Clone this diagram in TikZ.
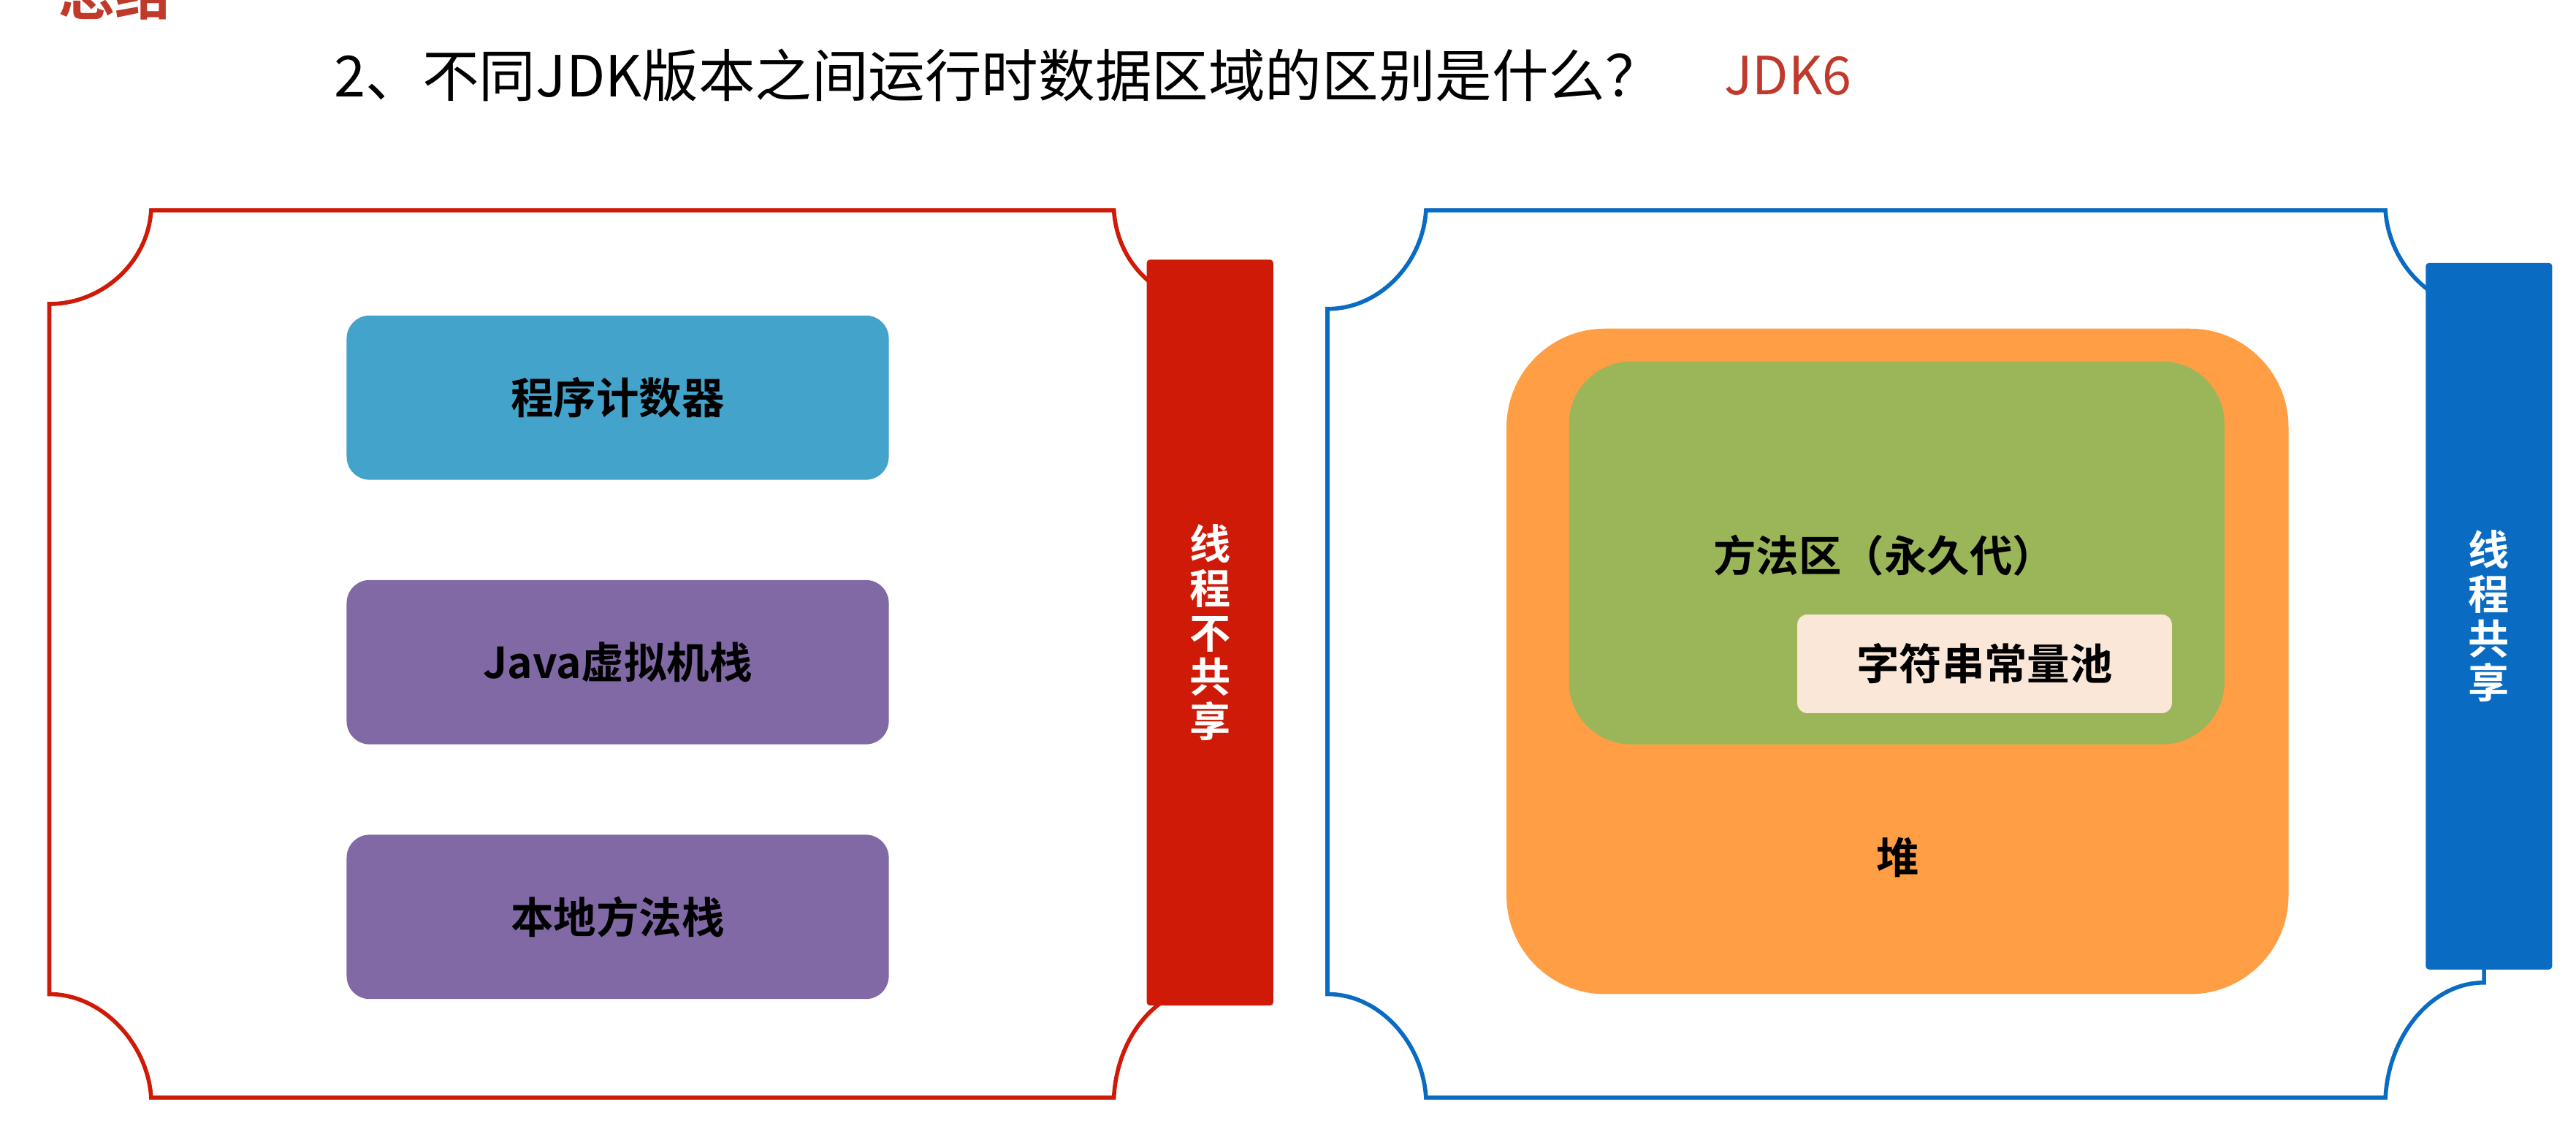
\documentclass[tikz,border=0pt]{standalone}
\usepackage{fontspec}
\newfontfamily\cjk{Noto Sans CJK SC}[BoldFont={Noto Sans CJK SC Bold}]
\definecolor{tred}{HTML}{C0392B}
\definecolor{fred}{HTML}{D01A08}
\definecolor{fblue}{HTML}{0A6BC2}
\definecolor{pcblue}{HTML}{44A3CB}
\definecolor{purp}{HTML}{8169A6}
\definecolor{heap}{HTML}{FF9E44}
\definecolor{grn}{HTML}{9BB659}
\definecolor{pool}{HTML}{FBE7D8}
\begin{document}
\begin{tikzpicture}[x=1pt,y=-1pt,
  lbl/.style={font=\cjk\bfseries\fontsize{26}{30}\selectfont,text=black},
  box/.style={lbl,rounded corners=14pt,minimum width=330pt,minimum height=100pt},
  bar/.style={rounded corners=2pt,minimum width=77pt,text=white,font=\cjk\bfseries\fontsize{25}{27}\selectfont,align=center}]
\useasboundingbox (0,0) rectangle (1568,685);
\clip (0,0) rectangle (1568,685);
\node[font=\cjk\bfseries\fontsize{34}{34}\selectfont,text=tred,anchor=center] (zj) at (70,-4) {总结};
\node[font=\cjk\fontsize{34.5}{38}\selectfont,anchor=west] (title) at (200,46) {2、不同JDK版本之间运行时数据区域的区别是什么？};
\node[font=\cjk\fontsize{32}{36}\selectfont,anchor=west,text=tred] (jdk) at (1046,46) {JDK6};
% left frame
\draw[fred,line width=2.5pt] (30,185) -- (30,605)
  .. controls (62,605) and (90,635) .. (92,668) -- (678,668)
  .. controls (680,630) and (705,600) .. (738,600) -- (738,185)
  .. controls (705,185) and (680,160) .. (678,128) -- (92,128)
  .. controls (90,160) and (62,185) .. (30,185) -- cycle;
\node[bar,fill=fred,minimum height=454pt] (b1) at (736.5,385) {线\\程\\不\\共\\享};
\node[box,fill=pcblue] (pc) at (376,242) {程序计数器};
\node[box,fill=purp] (js) at (376,403) {Java虚拟机栈};
\node[box,fill=purp] (ns) at (376,558) {本地方法栈};
% right frame
\draw[fblue,line width=2.5pt] (808,188) -- (808,605)
  .. controls (840,605) and (866,635) .. (868,668) -- (1452,668)
  .. controls (1454,630) and (1480,598) .. (1512,598) -- (1512,188)
  .. controls (1480,188) and (1454,160) .. (1452,128) -- (868,128)
  .. controls (866,160) and (840,188) .. (808,188) -- cycle;
\node[bar,fill=fblue,minimum height=430pt] (b2) at (1515,375) {线\\程\\共\\享};
\node[box,fill=heap,rounded corners=60pt,minimum width=476pt,minimum height=405pt] (heap) at (1155,402.5) {};
\node[lbl] (heapt) at (1155,522) {堆};
\node[box,fill=grn,rounded corners=38pt,minimum width=399pt,minimum height=233pt] (ma) at (1154.5,336.5) {};
\node[lbl] (mat) at (1147,338) {方法区（永久代）};
\node[box,fill=pool,rounded corners=6pt,minimum width=228pt,minimum height=60pt] (pool) at (1208,404) {字符串常量池};
\end{tikzpicture}
\end{document}
